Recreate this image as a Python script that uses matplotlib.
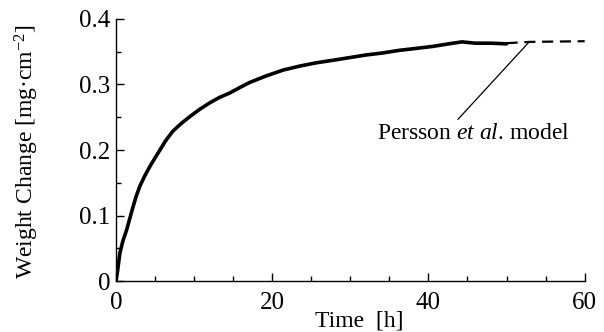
import matplotlib

matplotlib.use("Agg")
import matplotlib.pyplot as plt

time_h = [0.0, 0.2, 0.5, 0.9, 1.36, 1.8, 2.2, 2.6, 3.06, 3.7, 4.34, 5.0, 5.62, 6.4, 7.3,
          8.3, 9.45, 10.7, 12.0, 13.2, 14.55, 15.8, 17.1, 19.2, 21.4, 23.5, 25.6, 27.8,
          29.9, 32.0, 34.1, 36.2, 38.4, 40.5, 42.6, 44.3, 46.0, 48.0, 50.0]
weight = [0.0, 0.015, 0.043, 0.062, 0.078, 0.097, 0.114, 0.130, 0.145, 0.161, 0.175,
          0.188, 0.200, 0.215, 0.229, 0.240, 0.251, 0.262, 0.272, 0.280, 0.287, 0.295,
          0.303, 0.313, 0.322, 0.328, 0.333, 0.337, 0.341, 0.345, 0.348, 0.352, 0.355,
          0.358, 0.362, 0.365, 0.363, 0.363, 0.362]

# Persson et al. model (dashed continuation)
model_t = [50.0, 53.0, 60.0]
model_w = [0.363, 0.365, 0.366]

plt.rcParams["font.family"] = ["Liberation Serif", "DejaVu Serif"]
plt.rcParams["mathtext.fontset"] = "custom"
plt.rcParams["mathtext.rm"] = "Liberation Serif"
plt.rcParams["mathtext.it"] = "Liberation Serif:italic"

fig = plt.figure(figsize=(6.04, 3.32), dpi=100)
ax = fig.add_axes([0.192, 0.153, 0.776, 0.79])

ax.plot(time_h, weight, color="black", lw=2.6, solid_capstyle="round")
ax.plot(model_t, model_w, color="black", lw=1.6, dashes=(5, 3))

# leader line from the model curve down to the label
ax.annotate("Persson $\\mathit{et\\ al}$. model", xy=(52.9, 0.365), xytext=(45.8, 0.225),
            ha="center", va="center", fontsize=17,
            arrowprops=dict(arrowstyle="-", color="black", lw=0.9, relpos=(0.4, 1.0),
                            shrinkA=1, shrinkB=0))

ax.set_xlim(0, 60)
ax.set_ylim(0, 0.4)
ax.set_xticks([0, 20, 40, 60])
ax.set_xticks(range(0, 61, 5), minor=True)
ax.set_yticks([0, 0.1, 0.2, 0.3, 0.4])
ax.set_yticks([0.05, 0.15, 0.25, 0.35], minor=True)
ax.set_yticklabels(["0", "0.1", "0.2", "0.3", "0.4"])

for s in ["top", "right"]:
    ax.spines[s].set_visible(False)
for s in ["left", "bottom"]:
    ax.spines[s].set_linewidth(1.0)

ax.tick_params(which="major", direction="in", length=6, width=1.0, labelsize=18)
ax.tick_params(axis="x", which="major", pad=8)
ax.tick_params(axis="y", which="major", pad=4)
ax.tick_params(which="minor", direction="in", length=3.5, width=1.0)

ax.set_xlabel("Time  [h]", fontsize=17)
ax.xaxis.set_label_coords(0.52, -0.11)
ax.set_ylabel("Weight Change [mg·cm$^{\\mathrm{-2}}$]", fontsize=17)
ax.yaxis.set_label_coords(-0.16, 0.494)

fig.savefig("out.png", dpi=100)
